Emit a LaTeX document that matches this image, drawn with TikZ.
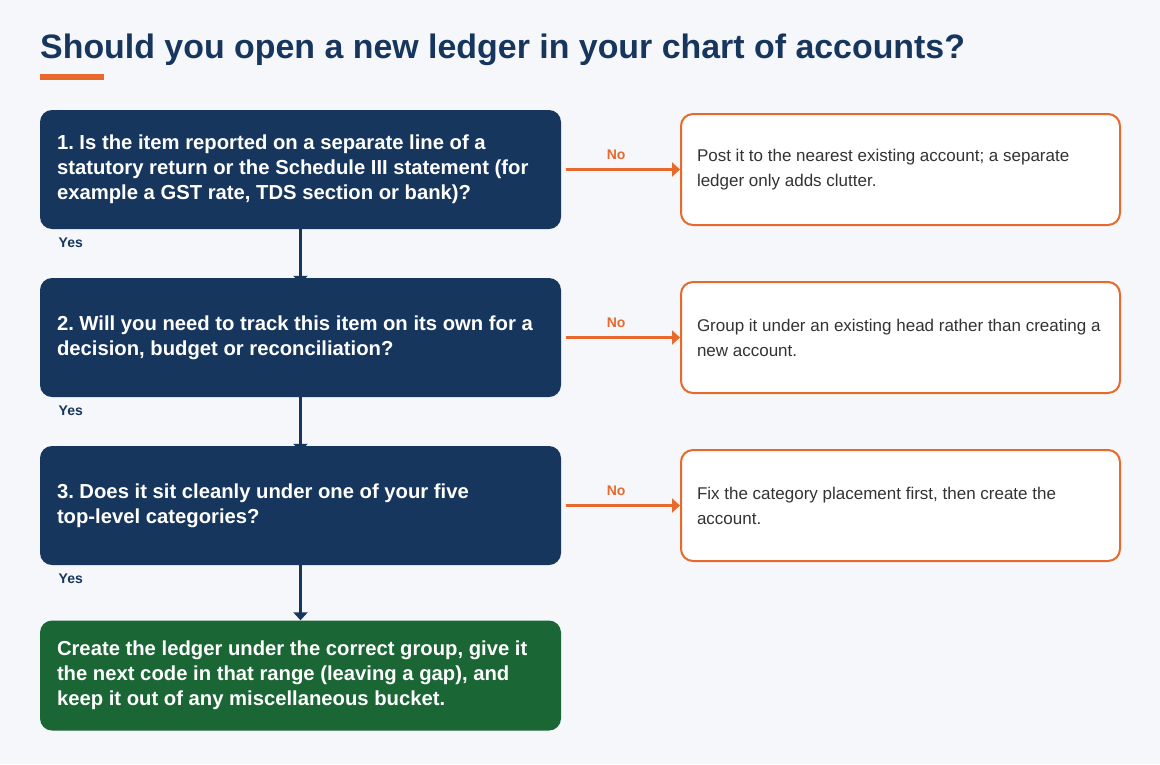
\documentclass[tikz,border=0pt]{standalone}
\usepackage{fontspec}
\setmainfont{Liberation Sans}
\usetikzlibrary{arrows.meta}
\definecolor{navy}{HTML}{17365D}
\definecolor{okgreen}{HTML}{1A6634}
\definecolor{accent}{HTML}{E8692C}
\definecolor{bgc}{HTML}{F5F7FA}
\definecolor{bodytext}{HTML}{333333}
\pgfdeclarelayer{background}
\pgfsetlayers{background,main}
\frenchspacing
\hyphenpenalty=10000
\exhyphenpenalty=10000
\begin{document}
\begin{tikzpicture}[x=1pt,y=-1pt,
  qbox/.style={fill=navy, rounded corners=12pt, minimum width=521pt, minimum height=119pt,
    text width=487pt, inner xsep=17pt, inner ysep=0pt, align=flush left, text=white,
    font=\bfseries\fontsize{20.25}{25}\selectfont},
  endbox/.style={qbox, fill=okgreen, minimum height=110pt},
  abox/.style={draw=accent, line width=2pt, fill=white, rounded corners=12pt,
    minimum width=439pt, minimum height=111pt, text width=407pt, inner xsep=16pt,
    inner ysep=0pt, align=flush left, text=bodytext, font=\fontsize{17}{25}\selectfont},
  harrow/.style={draw=accent, line width=3pt, -{Triangle[length=8pt,width=14pt]}},
  varrow/.style={draw=navy, line width=3pt, -{Triangle[length=8pt,width=14pt]}},
  nolab/.style={text=accent, font=\bfseries\fontsize{14}{16}\selectfont, inner sep=0pt},
  yeslab/.style={text=navy, font=\bfseries\fontsize{14}{16}\selectfont, inner sep=0pt},
]
\begin{pgfonlayer}{background}
\fill[bgc] (0,0) rectangle (1160,764);
\end{pgfonlayer}
\useasboundingbox (0,0) rectangle (1160,764);

\node[anchor=base west, inner sep=0pt, text=navy, font=\bfseries\fontsize{33.9}{40}\selectfont] (title) at (40,58) {Should you open a new ledger in your chart of accounts?};
\fill[accent] (40,74) rectangle (104,80);

\node[qbox] (q1) at (300.5,169.5) {1. Is the item reported on a separate line of a statutory return or the Schedule III statement (for example a GST rate, TDS section or bank)?};
\node[qbox] (q2) at (300.5,337.5) {2. Will you need to track this item on its own for a decision, budget or reconciliation?};
\node[qbox] (q3) at (300.5,505.5) {3. Does it sit cleanly under one of your five\\top-level categories?};
\node[endbox] (g) at (300.5,675.5) {Create the ledger under the correct group, give it the next code in that range (leaving a gap), and keep it out of any miscellaneous bucket.};

\node[abox] (r1) at (900.5,169.5) {Post it to the nearest existing account; a separate ledger only adds clutter.};
\node[abox] (r2) at (900.5,337.5) {Group it under an existing head rather than creating a new account.};
\node[abox] (r3) at (900.5,505.5) {Fix the category placement first, then create the account.};

\draw[harrow] ([xshift=5pt]q1.east) -- (r1.west);
\draw[harrow] ([xshift=5pt]q2.east) -- (r2.west);
\draw[harrow] ([xshift=5pt]q3.east) -- (r3.west);
\node[nolab] (n1) at ([shift={(55,-15)}]q1.east) {No};
\node[nolab] (n2) at ([shift={(55,-15)}]q2.east) {No};
\node[nolab] (n3) at ([shift={(55,-15)}]q3.east) {No};

\begin{pgfonlayer}{background}
\draw[varrow] (q1.south) -- ([yshift=-6pt]q2.north);
\draw[varrow] (q2.south) -- ([yshift=-6pt]q3.north);
\end{pgfonlayer}
\draw[varrow] (q3.south) -- (g.north);

\node[yeslab] (y1) at ([shift={(31,13.5)}]q1.south west) {Yes};
\node[yeslab] (y2) at ([shift={(31,13.5)}]q2.south west) {Yes};
\node[yeslab] (y3) at ([shift={(31,13.5)}]q3.south west) {Yes};
\end{tikzpicture}
\end{document}
